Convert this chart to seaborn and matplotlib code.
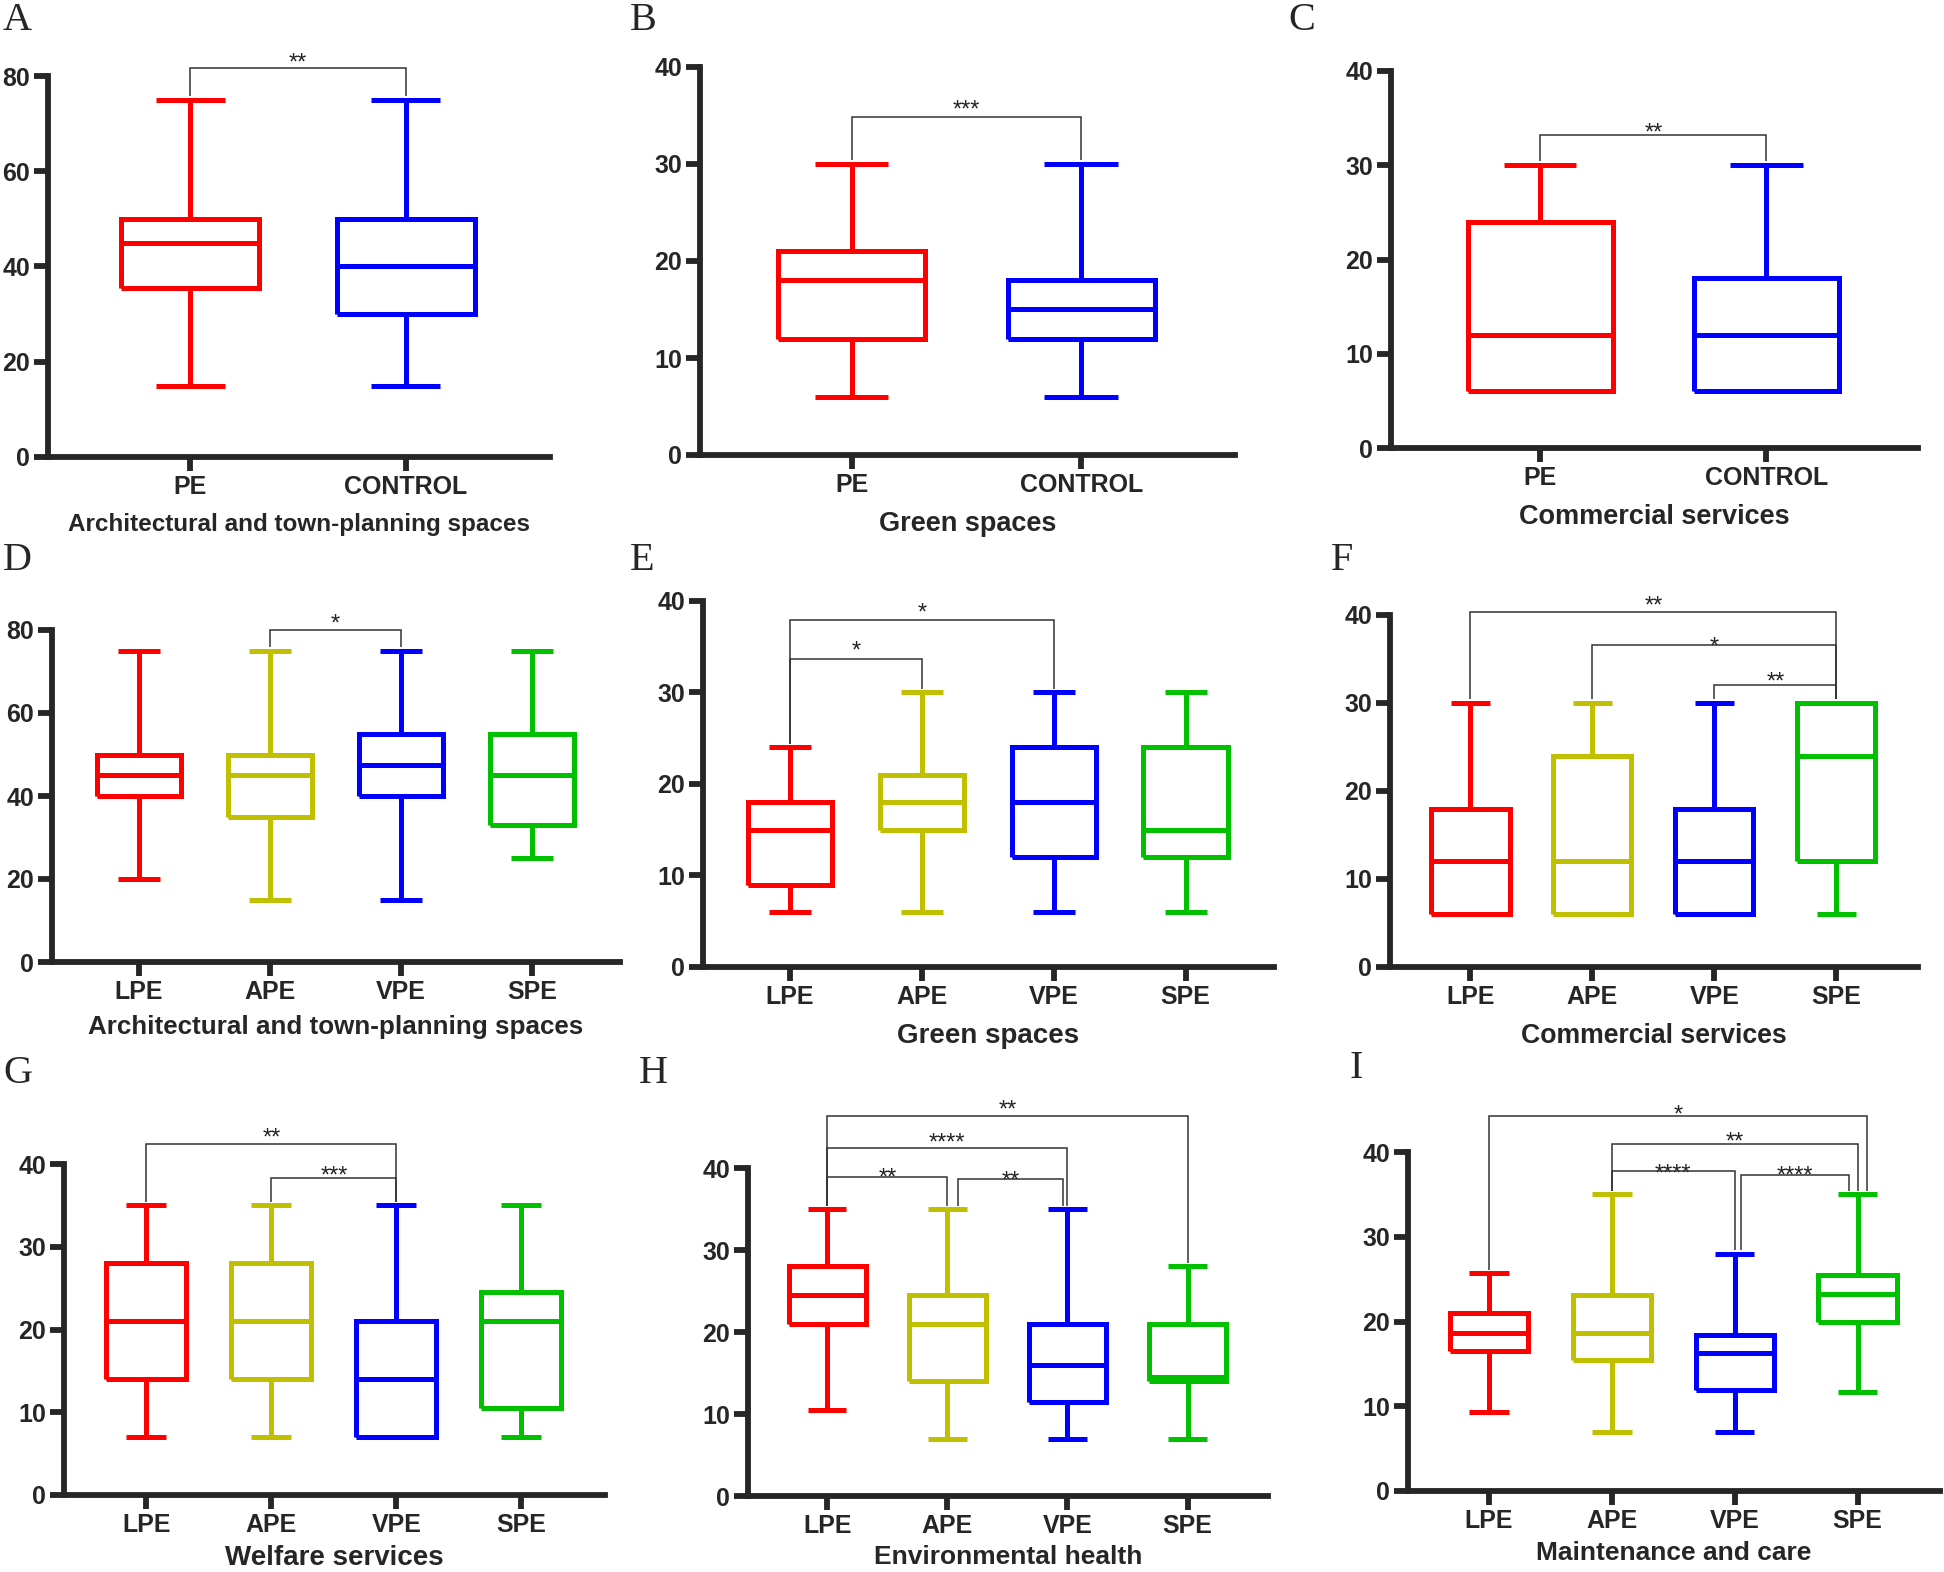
import numpy as np
import pandas as pd
import matplotlib
matplotlib.use("Agg")
import matplotlib.pyplot as plt
import matplotlib.transforms as mtransforms
import seaborn as sns

two_groups = ["PE", "CONTROL"]
four_groups = ["LPE", "APE", "VPE", "SPE"]
two_colors = ["#FF0000", "#0000FF"]
four_colors = ["#FF0000", "#C0C000", "#0000FF", "#00C000"]

# five-number summary per group: min, Q1, median, Q3, max
stats_a = [[15, 35.5, 45, 50, 75], [15, 30, 40, 50, 75]]
stats_b = [[6, 12, 18, 21, 30], [6, 12, 15, 18, 30]]
stats_c = [[6, 6, 12, 24, 30], [6, 6, 12, 18, 30]]
stats_d = [[20, 40, 45, 50, 75], [15, 35, 45, 50, 75], [15, 40, 47.5, 55, 75], [25, 33, 45, 55, 75]]
stats_e = [[6, 9, 15, 18, 24], [6, 15, 18, 21, 30], [6, 12, 18, 24, 30], [6, 12, 15, 24, 30]]
stats_f = [[6, 6, 12, 18, 30], [6, 6, 12, 24, 30], [6, 6, 12, 18, 30], [6, 12, 24, 30, 30]]
stats_g = [[7, 14, 21, 28, 35], [7, 14, 21, 28, 35], [7, 7, 14, 21, 35], [7, 10.5, 21, 24.5, 35]]
stats_h = [[10.5, 21, 24.5, 28, 35], [7, 14, 21, 24.5, 35], [7, 11.5, 16, 21, 35], [7, 14, 14.5, 21, 28]]
stats_i = [[9.3, 16.5, 18.7, 21, 25.7], [7, 15.4, 18.7, 23.1, 35], [7, 11.9, 16.3, 18.4, 28], [11.7, 20, 23.3, 25.5, 35]]

# significance brackets: group i, group j, line height, star height, label, leg shifts
brackets_a = [(0, 1, 81.7, 84.2, "**", 0, 0)]
brackets_b = [(0, 1, 34.8, 36.3, "***", 0, 0)]
brackets_c = [(0, 1, 33.2, 34.2, "**", 0, 0)]
brackets_d = [(1, 2, 80.1, 83.2, "*", 0, 0)]
brackets_e = [(0, 2, 37.9, 39.5, "*", 0, 0), (0, 1, 33.7, 35.3, "*", 0, 0)]
brackets_f = [(0, 3, 40.3, 41.8, "**", 0, 0), (1, 3, 36.6, 37.2, "*", 0, 0),
              (2, 3, 32.0, 33.2, "**", 0, 0)]
brackets_g = [(0, 2, 42.4, 44.0, "**", 0, 0), (1, 2, 38.3, 39.4, "***", 0, 0)]
brackets_h = [(0, 3, 46.4, 48.0, "**", 0, 0), (0, 2, 42.4, 43.9, "****", 0, 0),
              (0, 1, 38.9, 39.6, "**", 0, 0), (1, 2, 38.6, 39.3, "**", 0.085, -0.034)]
brackets_i = [(0, 3, 44.3, 45.2, "*", 0, 0.075), (1, 3, 40.9, 42.0, "**", 0, 0),
              (1, 2, 37.8, 38.2, "****", 0, 0), (2, 3, 37.3, 38.0, "****", 0.05, -0.07)]

panels = [
    ("A", two_groups, two_colors, stats_a, brackets_a, "Architectural and town-planning spaces", 80),
    ("B", two_groups, two_colors, stats_b, brackets_b, "Green spaces", 40),
    ("C", two_groups, two_colors, stats_c, brackets_c, "Commercial services", 40),
    ("D", four_groups, four_colors, stats_d, brackets_d, "Architectural and town-planning spaces", 80),
    ("E", four_groups, four_colors, stats_e, brackets_e, "Green spaces", 40),
    ("F", four_groups, four_colors, stats_f, brackets_f, "Commercial services", 40),
    ("G", four_groups, four_colors, stats_g, brackets_g, "Welfare services", 40),
    ("H", four_groups, four_colors, stats_h, brackets_h, "Environmental health", 40),
    ("I", four_groups, four_colors, stats_i, brackets_i, "Maintenance and care", 40),
]

# layout in pixels: axes (left, right, top, bottom), letter (x, y), xlabel size / pad
W, H = 1944, 1572
axes_px = [(48, 550, 76, 457), (700, 1235, 67, 455), (1391, 1918, 71, 448),
           (52, 620, 630, 962), (703, 1274, 601, 967), (1390, 1918, 615, 967),
           (64, 605, 1164, 1495), (748, 1268, 1168, 1496), (1408, 1940, 1152, 1491)]
letter_px = [(3, 2), (630, 2), (1288, 2), (3, 542), (630, 542), (1331, 542),
             (3, 1055), (639, 1055), (1349, 1050)]
label_sizes = [17.5, 19.5, 19.5, 18.7, 20, 19.2, 20, 19, 19]
label_pads = [10, 10, 10, 8, 10, 10, 6, 5, 6]

sns.set_style("ticks")
plt.rcParams["font.family"] = ["Liberation Sans", "DejaVu Sans"]
plt.rcParams["font.weight"] = "bold"
plt.rcParams["lines.solid_joinstyle"] = "miter"
plt.rcParams["lines.solid_capstyle"] = "butt"

fig = plt.figure(figsize=(W / 100, H / 100), dpi=100)
fig.patch.set_facecolor("white")

for k, (letter, groups, colors, stats, brackets, xlabel, ymax) in enumerate(panels):
    l, r, t, b = axes_px[k]
    ax = fig.add_axes([l / W, 1 - b / H, (r - l) / W, (b - t) / H])
    ax.set_facecolor("white")

    rows = [(g, v) for g, s in zip(groups, stats) for v in s]
    df = pd.DataFrame(rows, columns=["group", "score"])
    sns.boxplot(data=df, x="group", y="score", hue="group", order=groups, hue_order=groups,
                palette=colors, whis=(0, 100), fill=False, width=0.64, linewidth=3.6,
                legend=False, ax=ax)

    ax.set_xlim(-0.66, len(groups) - 1 + 0.67)
    ax.set_ylim(0, ymax)
    ax.set_yticks(np.linspace(0, ymax, 5))
    ax.set_ylabel("")
    ax.set_xlabel(xlabel, fontsize=label_sizes[k], fontweight="bold", labelpad=label_pads[k])
    sns.despine(ax=ax)
    for side in ["left", "bottom"]:
        ax.spines[side].set_linewidth(4.2)
        ax.spines[side].set_capstyle("projecting")
    ax.tick_params(axis="both", labelsize=18, width=4.2, length=10, pad=3, direction="out")
    for lbl in ax.get_xticklabels() + ax.get_yticklabels():
        lbl.set_fontweight("bold")

    gap = 0.01 * ymax
    star_tr = mtransforms.offset_copy(ax.transData, fig=fig, y=-0.58 * 17, units="points")
    for i, j, yl, ys, lab, dxi, dxj in brackets:
        xi, xj = i + dxi, j + dxj
        yi = stats[i][4] + gap
        yj = stats[j][4] + gap
        ax.plot([xi, xi, xj, xj], [yi, yl, yl, yj], color="#333333", lw=1.1,
                clip_on=False, solid_capstyle="butt", zorder=5)
        ax.text((xi + xj) / 2, ys, lab, ha="center", va="baseline", fontsize=17,
                fontweight="normal", color="#222222", transform=star_tr, clip_on=False)

    lx, ly = letter_px[k]
    fig.text(lx / W, 1 - ly / H, letter, fontsize=29, fontweight="normal",
             family=["Liberation Serif", "DejaVu Serif"], ha="left", va="top")

fig.savefig("out.png", dpi=100, facecolor="white")
